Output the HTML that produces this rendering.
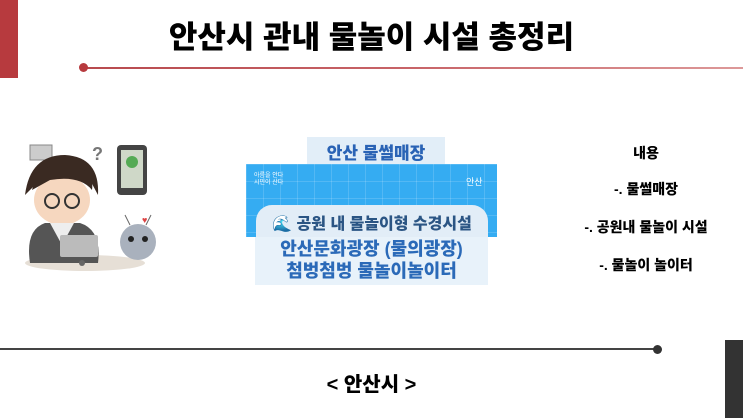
<!DOCTYPE html>
<html><head><meta charset="utf-8"><style>
body{margin:0;width:743px;height:418px;overflow:hidden;background:#fff;font-family:"Liberation Sans","Noto Sans CJK KR",sans-serif;position:relative}
.a{position:absolute}
.t{font-weight:900;white-space:nowrap}
</style></head><body>
<div class="a" style="left:0;top:0;width:18px;height:78px;background:#b73a3e"></div>
<div class="a t" style="left:0;width:743px;top:17px;text-align:center;font-size:31px;line-height:42px;color:#000">안산시 관내 물놀이 시설 총정리</div>
<div class="a" style="left:84px;top:67px;width:659px;height:2px;background:linear-gradient(90deg,#b84a4e,#c86468,#d99)"></div>
<div class="a" style="left:79px;top:63px;width:9px;height:9px;border-radius:50%;background:#b73a3e"></div>

<svg class="a" style="left:10px;top:135px" width="160" height="140" viewBox="0 0 160 140">
<ellipse cx="75" cy="128" rx="60" ry="8" fill="#e6dfd6"/>
<rect x="20" y="10" width="22" height="15" fill="#ccc" stroke="#888"/>
<text x="82" y="25" font-size="18" font-weight="bold" fill="#777">?</text>
<rect x="107" y="10" width="30" height="50" rx="4" fill="#444"/><rect x="111" y="15" width="22" height="38" fill="#cfd8c8"/><circle cx="122" cy="27" r="6" fill="#5a5"/>
<path d="M15 60 Q20 20 55 20 Q90 22 88 60 L80 45 L30 45 Z" fill="#3a2a22"/>
<ellipse cx="52" cy="65" rx="28" ry="25" fill="#f6d7bf"/>
<path d="M22 55 Q30 25 60 30 Q85 35 82 55 Q70 40 40 45 Z" fill="#3a2a22"/>
<circle cx="42" cy="66" r="7" fill="none" stroke="#333" stroke-width="2"/><circle cx="62" cy="66" r="7" fill="none" stroke="#333" stroke-width="2"/>
<path d="M20 128 Q15 95 35 88 L70 88 Q92 95 88 128 Z" fill="#555"/>
<path d="M40 88 L52 110 L64 88 Z" fill="#eee"/>
<rect x="50" y="100" width="38" height="22" rx="2" fill="#bbb"/>
<circle cx="72" cy="128" r="3" fill="#666"/>
<ellipse cx="128" cy="107" rx="18" ry="18" fill="#a9b1bd"/>
<circle cx="121" cy="104" r="3" fill="#222"/><circle cx="135" cy="104" r="3" fill="#222"/>
<line x1="120" y1="90" x2="115" y2="80" stroke="#666"/><line x1="136" y1="90" x2="141" y2="80" stroke="#666"/>
<text x="132" y="88" font-size="9" fill="#d44">♥</text>
</svg>

<div class="a" style="left:307px;top:137px;width:138px;height:27px;background:#e2eef8"></div>
<div class="a t" style="left:307px;top:139px;width:138px;text-align:center;font-size:17px;color:#2a63b5">안산 물썰매장</div>
<div class="a" style="left:246px;top:164px;width:251px;height:73px;background-image:linear-gradient(90deg,rgba(255,255,255,.15) 1px,transparent 1px),linear-gradient(rgba(255,255,255,.15) 1px,transparent 1px);background-size:17px 17px;background-color:#35acf2"></div>
<div class="a" style="left:254px;top:173px;font-size:6px;color:#fff;line-height:7px">아름을 안다<br>시민이 산다</div>
<div class="a" style="left:466px;top:175px;font-size:9px;color:#fff">안산</div>
<div class="a" style="left:256px;top:205px;width:232px;height:34px;border-radius:16px 16px 0 0;background:#e2edf7"></div>
<div class="a t" style="left:256px;top:210px;width:232px;text-align:center;font-size:16px;color:#2b5584">🌊 공원 내 물놀이형 수경시설</div>
<div class="a" style="left:255px;top:237px;width:233px;height:48px;background:#e8f2fa"></div>
<div class="a t" style="left:255px;top:238px;width:233px;text-align:center;font-size:18px;line-height:22px;color:#2b6ab8">안산문화광장 (물의광장)<br>첨벙첨벙 물놀이놀이터</div>

<div class="a t" style="left:556px;width:180px;top:143px;text-align:center;font-size:14px">내용</div>
<div class="a t" style="left:556px;width:180px;top:179px;text-align:center;font-size:14px">-. 물썰매장</div>
<div class="a t" style="left:556px;width:180px;top:217px;text-align:center;font-size:14px">-. 공원내 물놀이 시설</div>
<div class="a t" style="left:556px;width:180px;top:255px;text-align:center;font-size:14px">-. 물놀이 놀이터</div>

<div class="a" style="left:0;top:348px;width:658px;height:2px;background:#444"></div>
<div class="a" style="left:653px;top:345px;width:9px;height:9px;border-radius:50%;background:#333"></div>
<div class="a" style="left:725px;top:340px;width:18px;height:78px;background:#333"></div>
<div class="a t" style="left:0;width:743px;top:368px;text-align:center;font-size:20px">&lt; 안산시 &gt;</div>
</body></html>
